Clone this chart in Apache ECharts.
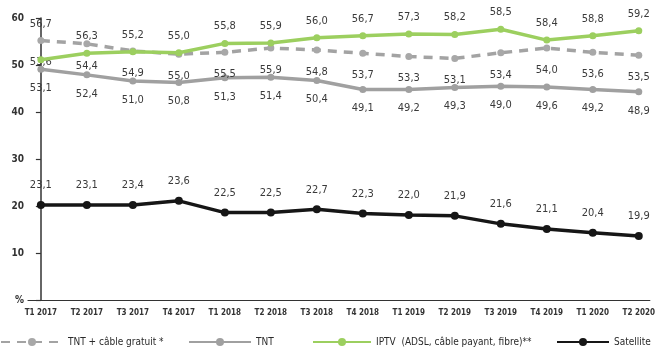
<!DOCTYPE html>
<html>
<head>
<meta charset="utf-8">
<script src="https://cdn.jsdelivr.net/npm/echarts@6/dist/echarts.min.js"></script>
<style>
html,body{margin:0;padding:0;background:#fff;}
#chart{width:658px;height:353px;}
</style>
</head>
<body>
<div id="chart"></div>
<script>
// trimestres
var categories=['T1 2017','T2 2017','T3 2017','T4 2017','T1 2018','T2 2018','T3 2018','T4 2018','T1 2019','T2 2019','T3 2019','T4 2019','T1 2020','T2 2020'];
var yTicks=['%','10','20','30','40','50','60'];

// position des points
var tntCablePts=[55.2,54.5,53.0,52.3,52.7,53.6,53.2,52.5,51.8,51.4,52.6,53.6,52.7,52.1];
var tntPts=[49.1,47.9,46.6,46.3,47.3,47.4,46.7,44.8,44.8,45.2,45.5,45.3,44.8,44.3];
var iptvPts=[51.1,52.5,52.8,52.6,54.6,54.7,55.8,56.2,56.6,56.5,57.6,55.3,56.2,57.3];
var satPts=[20.2,20.2,20.2,21.1,18.6,18.6,19.3,18.4,18.1,17.9,16.2,15.1,14.3,13.6];

// valeurs affichees
var tntCableLbl=[53.6,54.4,54.9,55.0,55.5,55.9,54.8,53.7,53.3,53.1,53.4,54.0,53.6,53.5];
var tntLbl=[53.1,52.4,51.0,50.8,51.3,51.4,50.4,49.1,49.2,49.3,49.0,49.6,49.2,48.9];
var iptvLbl=[56.7,56.3,55.2,55.0,55.8,55.9,56.0,56.7,57.3,58.2,58.5,58.4,58.8,59.2];
var satLbl=[23.1,23.1,23.4,23.6,22.5,22.5,22.7,22.3,22.0,21.9,21.6,21.1,20.4,19.9];

var names=['TNT + câble gratuit *','TNT','IPTV  (ADSL, câble payant, fibre)**','Satellite'];

var FONT="'Liberation Sans Narrow','DejaVu Sans Condensed',sans-serif";

function pts(arr){
	return arr.map(function(v,i){return [i,v];});
}
function fmt(lbl){
	return function(p){return lbl[p.dataIndex].toFixed(1).replace('.',',');};
}
function mkLabel(lbl,pos,dist){
	return {show:true,position:pos,distance:dist,formatter:fmt(lbl),
		fontFamily:FONT,fontSize:11,color:'#3a3a3a'};
}

var iptvData=pts(iptvPts);
// premier libelle IPTV place plus haut (au-dessus de la courbe pointillee)
iptvData[0]={value:iptvData[0],label:{distance:27}};

var chart=echarts.init(document.getElementById('chart'));
var legendText={fontFamily:FONT,fontSize:10,color:'#2a2a2a'};
chart.setOption({
	animation:false,
	grid:{left:28,right:0,top:18,bottom:53},
	legend:[
		{data:[names[0]],left:0,top:337,padding:0,itemWidth:62,itemHeight:10,textStyle:legendText},
		{data:[names[1]],left:188,top:337,padding:0,itemWidth:62,itemHeight:10,textStyle:legendText},
		{data:[names[2]],left:312,top:337,padding:0,itemWidth:58,itemHeight:10,textStyle:legendText},
		{data:[names[3]],left:556,top:337,padding:0,itemWidth:52,itemHeight:10,textStyle:legendText}
	],
	xAxis:{
		type:'value',min:-0.28,max:13.24,
		splitLine:{show:false},
		axisLine:{show:true,lineStyle:{color:'#333',width:1.2}},
		axisTick:{show:false},
		axisLabel:{
			customValues:categories.map(function(c,i){return i;}),
			formatter:function(v){return categories[v];},
			fontFamily:FONT,fontWeight:'bold',fontSize:8,color:'#333',margin:9
		}
	},
	yAxis:{
		type:'value',min:0,max:60,interval:10,
		splitLine:{show:false},
		axisLine:{show:true,lineStyle:{color:'#333',width:1.5}},
		axisTick:{show:true,length:5,lineStyle:{color:'#333',width:1.2}},
		axisLabel:{
			formatter:function(v){return yTicks[v/10];},
			fontFamily:FONT,fontWeight:'bold',fontSize:10,color:'#333',margin:4
		}
	},
	series:[
		{
			name:names[0],type:'line',data:pts(tntCablePts),
			symbol:'circle',symbolSize:7,
			lineStyle:{color:'#a3a3a3',width:3.5,type:[9,7]},
			itemStyle:{color:'#a8a8a8'},
			label:mkLabel(tntCableLbl,'bottom',13),z:2
		},
		{
			name:names[1],type:'line',data:pts(tntPts),
			symbol:'circle',symbolSize:7,
			lineStyle:{color:'#a0a0a0',width:3.5},
			itemStyle:{color:'#a0a0a0'},
			label:mkLabel(tntLbl,'bottom',10),z:2
		},
		{
			name:names[2],type:'line',data:iptvData,
			symbol:'circle',symbolSize:7,
			lineStyle:{color:'#9ccf5f',width:3.5},
			itemStyle:{color:'#9ccf5f'},
			label:mkLabel(iptvLbl,'top',8),z:3
		},
		{
			name:names[3],type:'line',data:pts(satPts),
			symbol:'circle',symbolSize:8,
			lineStyle:{color:'#161616',width:3.5},
			itemStyle:{color:'#161616'},
			label:mkLabel(satLbl,'top',10),z:3
		}
	]
});
</script>
</body>
</html>
